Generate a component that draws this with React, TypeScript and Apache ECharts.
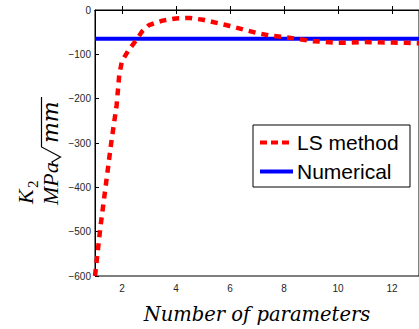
import React, { useEffect, useRef } from "react";
import * as echarts from "echarts";

const paramCounts = [1, 1.2, 1.4, 1.6, 1.8, 1.9, 2, 2.25, 2.5, 2.75, 3, 3.5, 4, 4.5, 5, 5.5, 6, 6.5, 7, 7.5, 8, 8.5, 9, 9.5, 10, 10.5, 11, 11.5, 12, 12.5, 13];
const lsValues = [-600, -490, -395, -300, -215, -145, -115, -90, -70, -48, -34, -24, -19, -18, -22, -29, -36, -44, -52, -58, -61, -65, -70, -72, -74, -73.5, -72, -73, -73.5, -74, -75];
const numericalX = [1, 13];
const numericalValue = -65;
const xTickValues = [2, 4, 6, 8, 10, 12];
const legendNames = ["LS method", "Numerical"];

const fmt = (v: number) => String(v).replace("-", "\u2212");

export default function App() {
  const ref = useRef<HTMLDivElement>(null);
  useEffect(() => {
    if (!ref.current) return;
    const chart = echarts.init(ref.current, undefined, { renderer: "svg" });
    const labelStyle = { fontFamily: "Liberation Sans", fontSize: 10, color: "#262626" };
    chart.setOption({
      animation: false,
      grid: { left: 95, top: 10, width: 330, height: 277, show: true, borderColor: "#000", borderWidth: 1, backgroundColor: "#fff" },
      xAxis: [
        {
          type: "value", min: 1, max: 13, position: "bottom",
          axisLine: { show: true, lineStyle: { color: "#000", width: 1 } },
          axisTick: { show: true, inside: true, length: 4, customValues: xTickValues, lineStyle: { color: "#000" } },
          axisLabel: { show: true, customValues: xTickValues, margin: 7, ...labelStyle, formatter: (v: number) => fmt(v) },
          splitLine: { show: false },
          name: "Number of parameters", nameLocation: "middle", nameGap: 28,
          nameTextStyle: { fontFamily: "DejaVu Serif", fontStyle: "italic", fontSize: 19.5, color: "#000" },
        },
        {
          type: "value", min: 1, max: 13, position: "top",
          axisLine: { show: true, lineStyle: { color: "#000", width: 1 } },
          axisTick: { show: true, inside: true, length: 4, customValues: xTickValues, lineStyle: { color: "#000" } },
          axisLabel: { show: false },
          splitLine: { show: false },
        },
      ],
      yAxis: {
        type: "value", min: -600, max: 0, interval: 100,
        axisLine: { show: true, lineStyle: { color: "#000", width: 1 } },
        axisTick: { show: true, inside: true, length: 4, lineStyle: { color: "#000" } },
        axisLabel: { show: true, margin: 4, ...labelStyle, formatter: (v: number) => fmt(v) },
        splitLine: { show: false },
      },
      series: [
        {
          name: legendNames[1], type: "line", xAxisIndex: 0,
          data: numericalX.map((x) => [x, numericalValue]),
          symbol: "none", lineStyle: { color: "#0000ff", width: 4 },
        },
        {
          name: legendNames[0], type: "line", xAxisIndex: 0,
          data: paramCounts.map((x, i) => [x, lsValues[i]]),
          symbol: "none", lineStyle: { color: "#ff0000", width: 4.5, type: [7, 6], cap: "butt" },
        },
      ],
      graphic: [
        {
          type: "group", x: 253, y: 125,
          children: [
            { type: "rect", shape: { x: 0, y: 0, width: 157, height: 62 }, style: { fill: "#fff", stroke: "#000", lineWidth: 1 } },
            { type: "line", shape: { x1: 7, y1: 17.5, x2: 40, y2: 17.5 }, style: { stroke: "#ff0000", lineWidth: 4, lineDash: [7, 4] } },
            { type: "text", x: 44, y: 17.5, style: { text: legendNames[0], font: "21px 'Liberation Sans'", fill: "#000", verticalAlign: "middle" } },
            { type: "line", shape: { x1: 7, y1: 46.5, x2: 40, y2: 46.5 }, style: { stroke: "#0000ff", lineWidth: 4 } },
            { type: "text", x: 44, y: 46.5, style: { text: legendNames[1], font: "21px 'Liberation Sans'", fill: "#000", verticalAlign: "middle" } },
          ],
        },
        {
          type: "group", x: 50.5, y: 205, rotation: Math.PI / 2,
          children: [
            { type: "text", x: 0, y: 0, style: { text: "MPa", font: "italic 22px 'Liberation Serif'", fill: "#000", verticalAlign: "middle" } },
            { type: "polyline", shape: { points: [[40, 3], [43, 1.5], [48, 10], [58, -9], [108, -9]] }, style: { stroke: "#000", lineWidth: 1.2, fill: "none" } },
            { type: "text", x: 62, y: 0, style: { text: "mm", font: "italic 22px 'DejaVu Serif'", fill: "#000", verticalAlign: "middle" } },
            { type: "text", x: 1, y: -25, style: { text: "K", font: "italic 22px 'Liberation Serif'", fill: "#000", verticalAlign: "middle" } },
            { type: "text", x: 17, y: -18, style: { text: "2", font: "15px 'Liberation Serif'", fill: "#000", verticalAlign: "middle" } },
          ],
        },
      ],
    });
    return () => chart.dispose();
  }, []);
  return <div ref={ref} style={{ width: 419, height: 329, position: "absolute", left: 0, top: 0 }} />;
}
